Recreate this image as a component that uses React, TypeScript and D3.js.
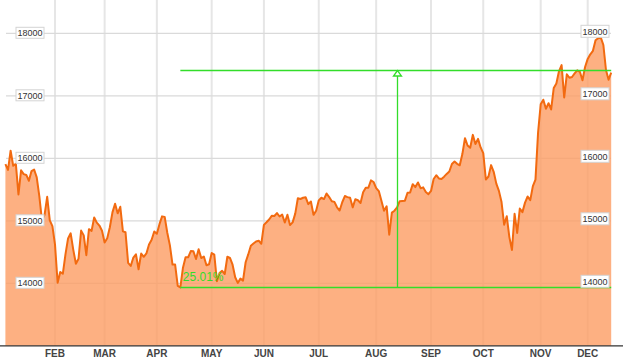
import React from "react";
import * as d3 from "d3";

// Trading dates (2014, MM-DD)
const tradingDates: string[] = [
  "01-06","01-07","01-08","01-09","01-10","01-14","01-15","01-16","01-17","01-20","01-21","01-22","01-23","01-24","01-27","01-28","01-29","01-30","01-31",
  "02-03","02-04","02-05","02-06","02-07","02-10","02-12","02-13","02-14","02-17","02-18","02-19","02-20","02-21","02-24","02-25","02-26","02-27","02-28",
  "03-03","03-04","03-05","03-06","03-07","03-10","03-11","03-12","03-13","03-14","03-17","03-18","03-19","03-20","03-24","03-25","03-26","03-27","03-28","03-31",
  "04-01","04-02","04-03","04-04","04-07","04-08","04-09","04-10","04-11","04-14","04-15","04-16","04-17","04-18","04-21","04-22","04-23","04-24","04-25","04-28","04-30",
  "05-01","05-02","05-07","05-08","05-09","05-12","05-13","05-14","05-15","05-16","05-19","05-20","05-21","05-22","05-23","05-26","05-27","05-28","05-29","05-30",
  "06-02","06-03","06-04","06-05","06-06","06-09","06-10","06-11","06-12","06-13","06-16","06-17","06-18","06-19","06-20","06-23","06-24","06-25","06-26","06-27","06-30",
  "07-01","07-02","07-03","07-04","07-07","07-08","07-09","07-10","07-11","07-14","07-15","07-16","07-17","07-18","07-22","07-23","07-24","07-25","07-28","07-29","07-30","07-31",
  "08-01","08-04","08-05","08-06","08-07","08-08","08-11","08-12","08-13","08-14","08-15","08-18","08-19","08-20","08-21","08-22","08-25","08-26","08-27","08-28","08-29",
  "09-01","09-02","09-03","09-04","09-05","09-08","09-09","09-10","09-11","09-12","09-16","09-17","09-18","09-19","09-22","09-24","09-25","09-26","09-29","09-30",
  "10-01","10-02","10-03","10-06","10-07","10-08","10-09","10-10","10-14","10-15","10-16","10-17","10-20","10-21","10-22","10-23","10-24","10-27","10-28","10-29","10-30","10-31",
  "11-04","11-05","11-06","11-07","11-10","11-11","11-12","11-13","11-14","11-17","11-18","11-19","11-20","11-21","11-25","11-26","11-27","11-28",
  "12-01","12-02","12-03","12-04","12-05","12-08","12-09","12-10","12-11","12-12",
];

// Closing values
const closes: number[] = [
  15908,15814,16121,15880,15912,15422,15808,15747,15734,15641,15795,15820,15695,15391,15005,15094,15383,15008,14915,
  14619,14009,14181,14155,14463,14718,14800,14535,14313,14393,14843,14767,14450,14866,14838,15052,14971,14924,14841,
  14652,14721,14897,15135,15274,15120,15224,14830,14816,14328,14278,14412,14463,14225,14476,14424,14478,14622,14696,14828,
  14792,14946,15071,15063,14809,14607,14300,14300,13960,13935,14250,14418,14417,14516,14512,14389,14546,14404,14429,14289,14304,
  14485,14458,14033,14163,14199,14149,14425,14405,14298,14097,14006,14075,14043,14337,14462,14602,14637,14670,14682,14632,
  14935,14976,15021,15080,15077,15124,15069,15098,14973,15097,14933,14975,15115,15361,15349,15369,15376,15267,15309,15095,15162,
  15326,15369,15348,15437,15380,15314,15303,15216,15164,15297,15396,15379,15370,15215,15344,15329,15284,15458,15530,15529,15647,15621,
  15523,15475,15320,15160,15232,14778,15130,15161,15213,15314,15318,15322,15449,15454,15586,15539,15613,15522,15535,15460,15425,
  15477,15669,15729,15677,15669,15706,15750,15789,15909,15949,15912,15888,16068,16322,16205,16168,16375,16229,16311,16174,
  16082,15661,15709,15891,15784,15595,15479,15300,14937,15074,14739,14533,15112,14805,15196,15139,15291,15389,15330,15554,15659,16414,
  16863,16937,16793,16881,16781,17125,17198,17392,17491,16974,17344,17289,17301,17358,17408,17384,17249,17460,
  17590,17664,17720,17888,17921,17935,17813,17413,17258,17371,
];

const monthLabels = ["JAN","FEB","MAR","APR","MAY","JUN","JUL","AUG","SEP","OCT","NOV","DEC"];
const yTicks = [14000, 15000, 16000, 17000, 18000];

const annotationStart = "04-14";
const annotationArrowAt = "08-13";
const annotationLabel = "25.01%";
const annotationPct = 25.01;

const W = 623;
const H = 361;

export default function App() {
  const x = d3.scalePoint<string>().domain(tradingDates).range([5.4, 611.2]);
  const y = d3.scaleLinear().domain([13000, 18000]).range([345.8, 33.3]);

  const data = tradingDates.map((d, i) => ({ d, v: closes[i] }));
  const area = d3.area<{ d: string; v: number }>()
    .x((p) => x(p.d)!)
    .y0(y(13000))
    .y1((p) => y(p.v));
  const line = d3.line<{ d: string; v: number }>()
    .x((p) => x(p.d)!)
    .y((p) => y(p.v));

  const monthFirst = monthLabels.map((_, mi) => {
    const mm = String(mi + 1).padStart(2, "0");
    return tradingDates.find((d) => d.startsWith(mm + "-"))!;
  });

  const lowV = d3.min(closes)!;
  const highV = lowV * (1 + annotationPct / 100);
  const green = "#33dd2a";
  const xStart = x(annotationStart)!;
  const xEnd = x(tradingDates[tradingDates.length - 1])!;
  const xArrow = Math.round(x(annotationArrowAt)!) + 0.5;
  const yLow = Math.round(y(lowV)) + 0.5;
  const yHigh = Math.round(y(highV)) + 0.5;

  const font = "'Liberation Sans', Arial, sans-serif";

  return (
    <svg width={W} height={H} style={{ position: "absolute", left: 0, top: 0, background: "#fff" }}>
      {/* vertical grid */}
      {monthFirst.slice(1).map((d) => (
        <line key={"v" + d} x1={x(d)} x2={x(d)} y1={0} y2={345.8} stroke="#e6e6e6" strokeWidth={2} />
      ))}
      {/* horizontal grid */}
      {yTicks.map((t) => (
        <line key={"h" + t} x1={6} x2={611} y1={y(t)} y2={y(t)} stroke="#dadada" strokeWidth={1.2} />
      ))}
      {/* area */}
      <path d={area(data)!} fill="#fc9c63" fillOpacity={0.8} />
      <path d={line(data)!} fill="none" stroke="#f26a10" strokeWidth={2} strokeLinejoin="round" />
      {/* bottom axis */}
      <line x1={0} x2={W} y1={345.8} y2={345.8} stroke="#333" strokeWidth={1.3} />
      {monthFirst.slice(1).map((d, i) => (
        <text key={"m" + d} x={x(d)} y={357} textAnchor="middle" fontFamily={font} fontSize={10} fontWeight="bold" fill="#444">
          {monthLabels[i + 1]}
        </text>
      ))}
      {/* annotation */}
      <line x1={xStart} x2={xEnd} y1={yLow} y2={yLow} stroke={green} strokeWidth={1.3} />
      <line x1={xStart} x2={xEnd} y1={yHigh} y2={yHigh} stroke={green} strokeWidth={1.3} />
      <line x1={xArrow} x2={xArrow} y1={yHigh + 5} y2={yLow} stroke={green} strokeWidth={1.3} />
      <path d={`M${xArrow},${yHigh} L${xArrow - 4},${yHigh + 5.5} L${xArrow + 4},${yHigh + 5.5} Z`} fill="#fff" stroke={green} strokeWidth={1.3} />
      <text x={xStart + 2.5} y={yLow - 6.5} fontFamily={font} fontSize={12} fill={green}>{annotationLabel}</text>
      {/* y labels left and right */}
      {yTicks.map((t) => (
        <g key={"yl" + t}>
          <rect x={16} y={y(t) - 6} width={28} height={11} fill="#fff" stroke="#d4d4d4" strokeWidth={1} />
          <text x={30} y={y(t) + 3} textAnchor="middle" fontFamily={font} fontSize={9} fill="#333">{t}</text>
          <rect x={581} y={y(t) - 8} width={28} height={12} fill="#fff" stroke="#d4d4d4" strokeWidth={1} />
          <text x={595} y={y(t) + 1.5} textAnchor="middle" fontFamily={font} fontSize={9} fill="#333">{t}</text>
        </g>
      ))}
    </svg>
  );
}
